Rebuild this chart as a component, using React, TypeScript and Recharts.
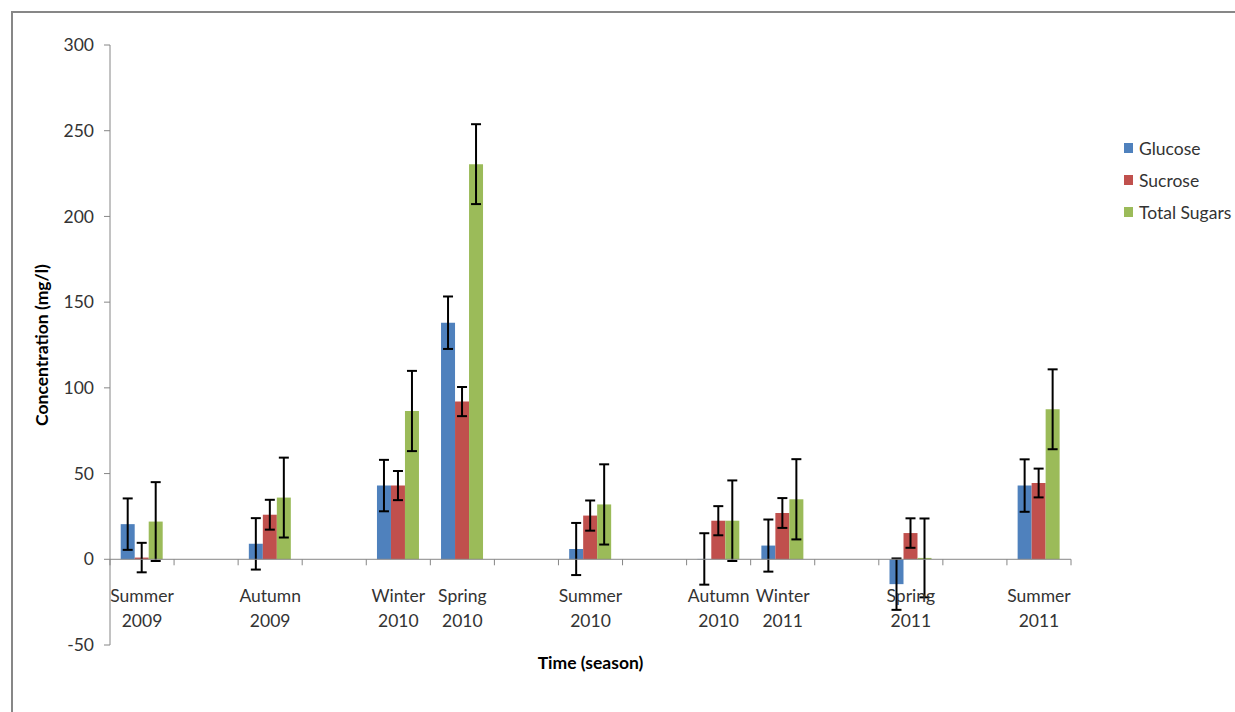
import { BarChart, Bar, XAxis, YAxis, ErrorBar, ReferenceLine, Legend } from 'recharts';

// 15 category slots on the axis; empty strings are the gaps Excel left between seasons
const seasons = [
    'Summer 2009', '', 'Autumn 2009', '', 'Winter 2010', 'Spring 2010', '',
    'Summer 2010', '', 'Autumn 2010', 'Winter 2011', '', 'Spring 2011', '', 'Summer 2011',
];

const glucose = [20.5, null, 9, null, 43, 138, null, 6, null, 0.2, 8, null, -14.5, null, 43];
const glucoseErr = [15, null, 15, null, 15, 15.3, null, 15.2, null, 15, 15.2, null, 15, null, 15.3];

const sucrose = [1, null, 26, null, 43, 92, null, 25.5, null, 22.5, 27, null, 15.3, null, 44.5];
const sucroseErr = [8.6, null, 8.7, null, 8.5, 8.5, null, 8.8, null, 8.5, 8.7, null, 8.6, null, 8.4];

const totalSugars = [22, null, 36, null, 86.5, 230.5, null, 32, null, 22.5, 35, null, 0.8, null, 87.5];
const totalErr = [23, null, 23.3, null, 23.4, 23.3, null, 23.4, null, 23.5, 23.4, null, 23, null, 23.3];

const yTicks = [-50, 0, 50, 100, 150, 200, 250, 300];

const rows = seasons.map((s, i) => ({
    key: i,
    glucose: glucose[i],
    glucoseErr: glucoseErr[i],
    sucrose: sucrose[i],
    sucroseErr: sucroseErr[i],
    total: totalSugars[i],
    totalErr: totalErr[i],
}));

const W = 1235;
const H = 712;
const PLOT_LEFT = 110;
const PLOT_RIGHT = 1071;
const PLOT_TOP = 45;
const PLOT_BOTTOM = 645;
const X_AXIS_H = 40;
const Y_MIN = -50;
const Y_MAX = 300;
const BAND = (PLOT_RIGHT - PLOT_LEFT) / seasons.length;
const ZERO_Y = PLOT_TOP + ((PLOT_BOTTOM - PLOT_TOP) * Y_MAX) / (Y_MAX - Y_MIN);

const FONT = "Lato, 'Open Sans', sans-serif";
const AXIS_GREY = '#868686';
const TEXT = '#333333';

// category labels sit under the zero line, not under the plot bottom
function SeasonTick(props: any) {
    const { x, payload, index, visibleTicksCount } = props;
    const label = seasons[payload.value] || '';
    const parts = label ? label.split(' ') : [];
    const left = x - BAND / 2;
    const right = x + BAND / 2;
    return (
        <g>
            <line x1={left} x2={left} y1={ZERO_Y} y2={ZERO_Y + 6} stroke={AXIS_GREY} />
            {index === visibleTicksCount - 1 && (
                <line x1={right} x2={right} y1={ZERO_Y} y2={ZERO_Y + 6} stroke={AXIS_GREY} />
            )}
            {parts.length > 0 && (
                <text x={x} y={ZERO_Y + 43} textAnchor="middle" fontSize={17.5} fontFamily={FONT} fill={TEXT}>
                    <tspan x={x}>{parts[0]}</tspan>
                    <tspan x={x} dy={25}>{parts[1]}</tspan>
                </text>
            )}
        </g>
    );
}

function LegendBox(props: any) {
    const items = props.payload || [];
    return (
        <div style={{ fontFamily: FONT, fontSize: 17.5, color: TEXT }}>
            {items.map((it: any) => (
                <div key={it.value} style={{ display: 'flex', alignItems: 'center', height: 32 }}>
                    <span style={{ display: 'inline-block', width: 9, height: 10, background: it.color, marginRight: 6 }} />
                    <span>{it.value}</span>
                </div>
            ))}
        </div>
    );
}

export default function App() {
    return (
        <div style={{ position: 'absolute', left: 0, top: 0, width: W, height: H, background: '#fff', overflow: 'hidden' }}>
            <div
                style={{
                    position: 'absolute',
                    left: 11,
                    top: 11,
                    width: W,
                    height: H,
                    borderLeft: '2px solid #878787',
                    borderTop: '2px solid #878787',
                }}
            />
            <BarChart
                width={W}
                height={H}
                data={rows}
                margin={{ top: PLOT_TOP, right: W - PLOT_RIGHT, left: PLOT_LEFT - 100, bottom: H - PLOT_BOTTOM - X_AXIS_H }}
                barCategoryGap="16.7%"
                barGap={0}
                style={{ position: 'absolute', left: 0, top: 0 }}
            >
                <XAxis
                    dataKey="key"
                    type="category"
                    height={X_AXIS_H}
                    axisLine={false}
                    tickLine={false}
                    interval={0}
                    tick={<SeasonTick />}
                    label={{
                        value: 'Time (season)',
                        position: 'insideBottom',
                        offset: 16,
                        style: { fontFamily: FONT, fontSize: 17.5, fontWeight: 700, fill: '#000' },
                    }}
                />
                <YAxis
                    width={100}
                    domain={[Y_MIN, Y_MAX]}
                    ticks={yTicks}
                    interval={0}
                    allowDataOverflow
                    axisLine={{ stroke: AXIS_GREY }}
                    tickLine={{ stroke: AXIS_GREY }}
                    tickSize={6}
                    tickMargin={10}
                    tick={{ fontFamily: FONT, fontSize: 17.5, fill: TEXT }}
                    label={{
                        value: 'Concentration (mg/l)',
                        angle: -90,
                        position: 'insideLeft',
                        offset: 32,
                        style: { textAnchor: 'middle', fontFamily: FONT, fontSize: 17.5, fontWeight: 700, fill: '#000' },
                    }}
                />
                <Legend
                    layout="vertical"
                    align="center"
                    verticalAlign="middle"
                    wrapperStyle={{ left: 1124, top: 132, width: 111 }}
                    content={<LegendBox />}
                />
                <Bar dataKey="glucose" name="Glucose" fill="#4F81BD" isAnimationActive={false}>
                    <ErrorBar dataKey="glucoseErr" width={5} strokeWidth={2} stroke="#000" />
                </Bar>
                <Bar dataKey="sucrose" name="Sucrose" fill="#C0504D" isAnimationActive={false}>
                    <ErrorBar dataKey="sucroseErr" width={5} strokeWidth={2} stroke="#000" />
                </Bar>
                <Bar dataKey="total" name="Total Sugars" fill="#9BBB59" isAnimationActive={false}>
                    <ErrorBar dataKey="totalErr" width={5} strokeWidth={2} stroke="#000" />
                </Bar>
                <ReferenceLine y={0} stroke={AXIS_GREY} />
            </BarChart>
        </div>
    );
}
